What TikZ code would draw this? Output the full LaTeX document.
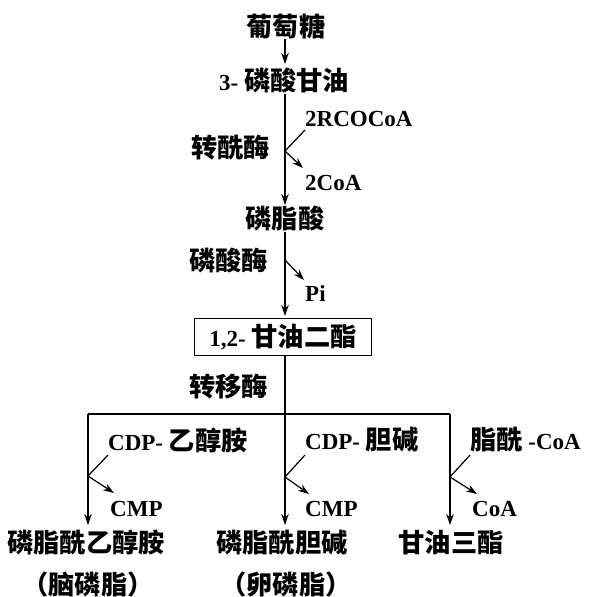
\documentclass[tikz,border=0pt]{standalone}
\usepackage{fontspec}
\setmainfont{Liberation Serif}
\newfontfamily\cjkf[Scale=1.14]{Noto Sans CJK SC}
\newcommand\cjk{\cjkf\bfseries}
\usetikzlibrary{arrows.meta}
\begin{document}
\begin{tikzpicture}[x=1pt,y=-1pt,
  txt/.style={inner sep=0pt,font=\fontsize{23}{28}\selectfont\bfseries},
  conn/.style={line width=1.2pt},
  arr/.style={line width=1.2pt,-{Stealth[length=11pt,width=7.5pt]}},
  boxed/.style={draw,line width=1.1pt,minimum width=177pt,minimum height=37pt,inner sep=2pt,font=\fontsize{23}{28}\selectfont\bfseries}]
\useasboundingbox (0,0) rectangle (596,597);
% main chain
\node[txt] (glu) at (286,26) {\cjk 葡萄糖};
\node[txt] (g3p) at (284,81) {3- {\cjk 磷酸甘油}};
\node[txt,anchor=west] (rco) at (305,119) {2RCOCoA};
\node[txt,anchor=east] (e1) at (270,148) {\cjk 转酰酶};
\node[txt,anchor=west] (coa2) at (305,183) {2CoA};
\node[txt] (pa) at (285,219) {\cjk 磷脂酸};
\node[txt,anchor=east] (e2) at (268,261) {\cjk 磷酸酶};
\node[txt,anchor=west] (pi) at (305,294) {Pi};
\node[boxed] (dg) at (283,337) {1,2- {\cjk 甘油二酯}};
\node[txt,anchor=east] (e3) at (268,387) {\cjk 转移酶};
% branches
\node[txt,anchor=west] (cdpe) at (108,440) {CDP- {\cjk 乙醇胺}};
\node[txt,anchor=west] (cdpc) at (305,440) {CDP- {\cjk 胆碱}};
\node[txt,anchor=west] (fac) at (470,440) {{\cjk 脂酰} -CoA};
\node[txt,anchor=west] (cmp1) at (110,509) {CMP};
\node[txt,anchor=west] (cmp2) at (305,509) {CMP};
\node[txt,anchor=west] (coa) at (472,509) {CoA};
\node[txt] (pe) at (86,543) {\cjk 磷脂酰乙醇胺};
\node[txt] (pc) at (282,543) {\cjk 磷脂酰胆碱};
\node[txt] (tg) at (451,543) {\cjk 甘油三酯};
\node[txt] (n1) at (88,585) {\cjk （脑磷脂）};
\node[txt] (n2) at (286,585) {\cjk （卵磷脂）};
% coordinates
\coordinate (top1) at (285,39);
\coordinate (end1) at (285,64);
\coordinate (top2) at (285,94);
\coordinate (end2) at (285,205);
\coordinate (j1) at (285,151);
\coordinate (r1) at (305,130);
\coordinate (c1) at (303,168);
\coordinate (top3) at (285,232);
\coordinate (end3) at (285,316);
\coordinate (j2) at (285,260);
\coordinate (p1) at (304,280);
\coordinate (hL) at (88,414);
\coordinate (hM) at (285,414);
\coordinate (hR) at (450,414);
\coordinate (eL) at (88,525);
\coordinate (eM) at (285,525);
\coordinate (eR) at (450,525);
\coordinate (jL) at (88,476);
\coordinate (jM) at (285,477);
\coordinate (jR) at (450,477);
\coordinate (sL) at (108,455);
\coordinate (sM) at (305,455);
\coordinate (sR) at (470,455);
\coordinate (tL) at (114,493);
\coordinate (tM) at (309,494);
\coordinate (tR) at (477,494);
% connectors
\draw[arr] (top1) -- (end1);
\draw[arr] (top2) -- (end2);
\draw[conn] (r1) -- (j1);
\draw[arr] (j1) -- (c1);
\draw[arr] (top3) -- (end3);
\draw[arr] (j2) -- (p1);
\draw[conn] (dg.south -| hM) -- (hM);
\draw[conn] (hL) -- (hR);
\draw[arr] (hL) -- (eL);
\draw[arr] (hM) -- (eM);
\draw[arr] (hR) -- (eR);
\draw[conn] (sL) -- (jL);
\draw[arr] (jL) -- (tL);
\draw[conn] (sM) -- (jM);
\draw[arr] (jM) -- (tM);
\draw[conn] (sR) -- (jR);
\draw[arr] (jR) -- (tR);
\end{tikzpicture}
\end{document}
